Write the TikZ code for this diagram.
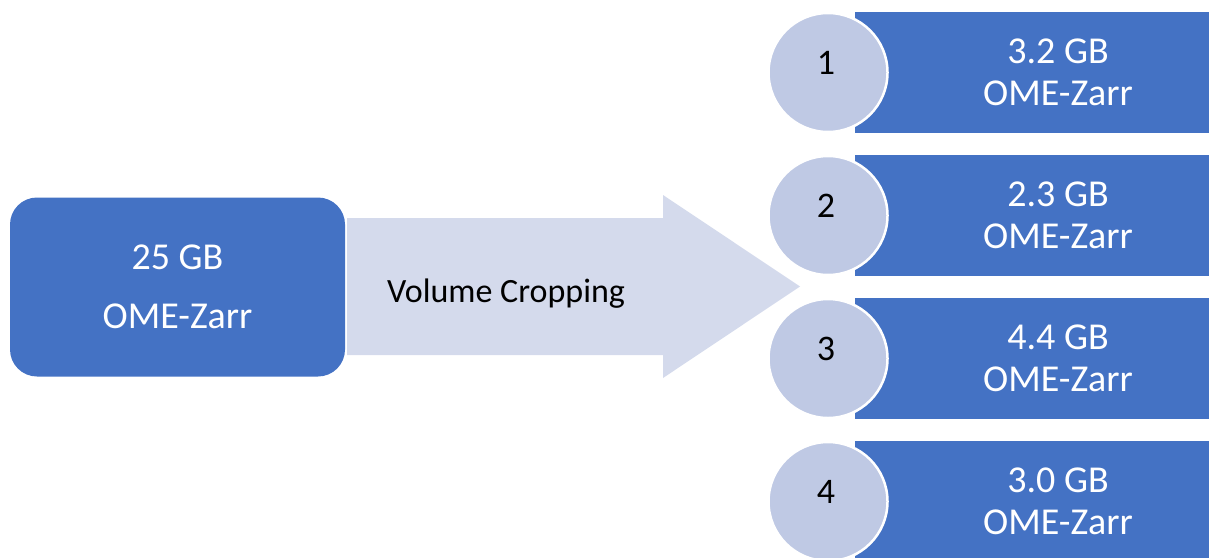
\documentclass[tikz,border=0pt]{standalone}
\usepackage{fontspec}
\setmainfont{Carlito}
\usetikzlibrary{positioning,calc}
\definecolor{zarrBlue}{RGB}{68,114,196}
\definecolor{cropLilac}{RGB}{212,218,236}
\definecolor{chunkGrey}{RGB}{191,201,228}

\begin{document}
\begin{tikzpicture}[
            x=1pt, y=-1pt,
            store/.style={rectangle, fill=zarrBlue, text=white, align=center, inner sep=0pt},
            idx/.style={circle, fill=chunkGrey, draw=white, line width=2.5pt, minimum size=119pt, inner sep=0pt},
            big/.style={font=\fontsize{38}{42}\selectfont}
        ]
            \clip (0,0) rectangle (1209,557);

            % source volume
            \node[store, big, rounded corners=27pt, minimum width=335pt, minimum height=179pt,
                  font=\fontsize{38}{59}\selectfont] (full) at (177.5,287) {25 GB\\OME-Zarr};

            % cropping arrow
            \coordinate (tail) at (347,286.5);
            \coordinate (tip) at (800,286.5);
            \fill[cropLilac] (tail) ++(0,-68.5) -- (663,218) -- (663,195) -- (tip)
                -- (663,378) -- (663,355) -- ($(tail)+(0,68.5)$) -- cycle;
            \node[font=\fontsize{34}{40}\selectfont] (crop) at (506,294) {Volume Cropping};

            % cropped parts
            \foreach \i/\sz [evaluate=\i as \yc using 72.5+143*(\i-1)] in {1/3.2,2/2.3,3/4.4,4/3.0} {
                \node[store, big, minimum width=406pt, minimum height=121pt] (part\i) at (1058,\yc) {\sz~GB\\OME-Zarr};
                \node[idx] (idx\i) at (828,\yc) {};
                \node[font=\fontsize{36}{40}\selectfont, inner sep=0pt] (num\i) at ([xshift=-2pt,yshift=10pt]idx\i.center) {\i};
            }
        \end{tikzpicture}
\end{document}
